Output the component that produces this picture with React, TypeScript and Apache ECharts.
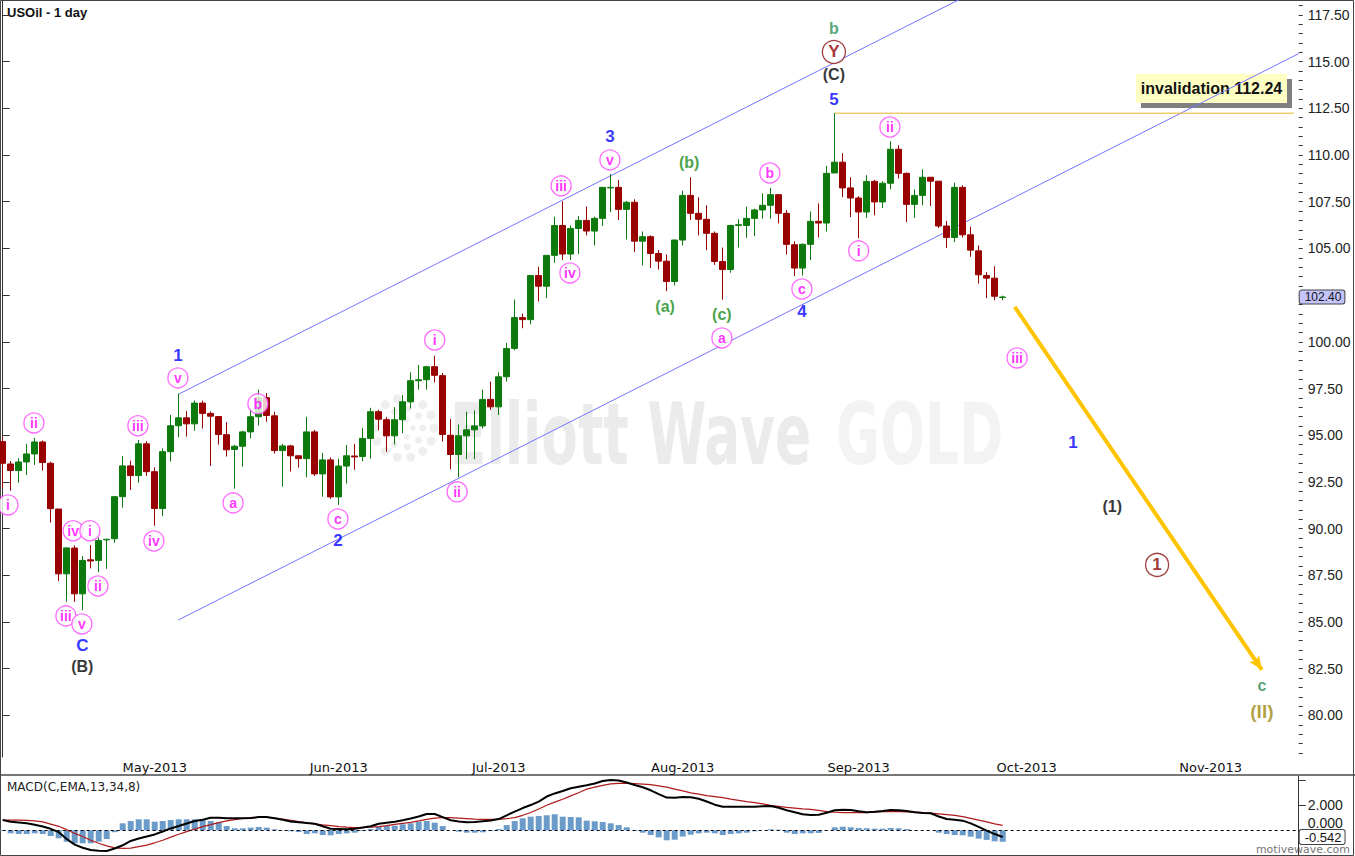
import { useEffect, useRef } from "react";
import * as echarts from "echarts";

// ---------- DATA ----------
const MONTH_NAMES = ["Jan", "Feb", "Mar", "Apr", "May", "Jun", "Jul", "Aug", "Sep", "Oct", "Nov", "Dec"];

// trading-day categories (weekdays) 2013-04-04 .. 2013-11-18
function buildWeekdays(): string[] {
  const out: string[] = [];
  const d = new Date(Date.UTC(2013, 3, 4));
  const end = Date.UTC(2013, 10, 18);
  while (d.getTime() <= end) {
    const wd = d.getUTCDay();
    if (wd !== 0 && wd !== 6) out.push(d.toISOString().slice(0, 10));
    d.setUTCDate(d.getUTCDate() + 1);
  }
  return out;
}
const dates = buildWeekdays();

// [open, close, low, high]
const ohlc: number[][] = [
  [94.66, 93.5, 92.16, 94.93], [93.46, 93.11, 92.03, 93.62], [93.11, 93.57, 92.46, 93.77], [93.57, 94.0, 92.87, 94.54],
  [94.0, 94.64, 93.41, 94.86], [94.64, 93.54, 93.11, 94.72], [93.5, 91.07, 90.32, 93.59], [91.05, 87.58, 87.2, 91.05],
  [87.58, 88.97, 86.08, 88.97], [88.96, 86.51, 86.08, 89.1], [86.51, 88.3, 85.63, 88.53], [88.33, 88.27, 87.87, 89.12],
  [88.3, 89.37, 87.67, 89.53], [89.4, 89.43, 87.85, 89.46], [89.46, 91.71, 89.24, 91.75], [91.71, 93.36, 91.12, 93.89],
  [93.36, 92.84, 92.07, 93.64], [92.84, 94.54, 92.46, 94.75], [94.54, 93.05, 92.82, 94.68], [93.05, 91.08, 90.16, 93.28],
  [91.08, 94.12, 90.67, 94.3], [94.12, 95.51, 93.59, 96.09], [95.51, 95.93, 94.89, 97.22], [95.93, 95.61, 94.93, 96.29],
  [95.61, 96.72, 95.25, 96.86], [96.72, 96.17, 95.36, 96.85], [96.17, 96.02, 93.36, 96.27], [96.0, 95.04, 94.5, 96.0],
  [95.03, 94.22, 93.86, 95.7], [94.24, 94.41, 92.14, 94.49], [94.41, 95.18, 93.32, 95.24], [95.18, 95.99, 94.83, 96.47],
  [95.99, 97.01, 95.52, 97.44], [97.01, 96.06, 95.72, 97.26], [96.04, 94.18, 94.02, 96.26], [94.18, 94.43, 92.25, 94.54],
  [94.43, 93.9, 93.06, 94.49], [93.9, 93.75, 93.27, 93.9], [93.75, 95.18, 92.75, 95.99], [95.18, 92.93, 92.82, 95.29],
  [92.93, 93.68, 91.71, 94.06], [93.68, 91.7, 91.59, 93.81], [91.7, 93.35, 91.27, 93.74], [93.35, 93.9, 92.41, 94.48],
  [93.89, 93.84, 93.15, 94.54], [93.86, 94.83, 93.61, 95.4], [94.83, 96.26, 93.75, 96.47], [96.26, 95.86, 95.26, 96.36],
  [95.83, 94.97, 94.11, 95.97], [94.97, 95.83, 94.5, 96.51], [95.83, 96.79, 95.11, 97.15], [96.79, 97.92, 96.43, 98.37],
  [97.92, 97.97, 97.44, 98.76], [97.97, 98.67, 97.44, 98.72], [98.67, 98.21, 97.83, 99.26], [98.19, 95.04, 94.66, 98.33],
  [95.0, 93.97, 93.18, 95.86], [93.97, 94.97, 92.75, 95.58], [94.97, 95.29, 93.72, 96.26], [95.29, 95.5, 93.72, 96.33],
  [95.5, 96.92, 95.36, 97.44], [96.92, 96.52, 96.36, 97.87], [96.52, 98.13, 96.08, 98.37], [98.13, 99.64, 97.87, 99.94],
  [99.65, 101.3, 99.55, 102.26], [101.3, 101.19, 100.73, 101.51], [101.19, 103.55, 100.94, 103.55], [103.55, 102.98, 102.16, 104.02],
  [102.98, 104.63, 102.34, 104.63], [104.63, 106.23, 104.23, 106.7], [106.23, 104.7, 104.38, 107.52], [104.7, 106.07, 104.38, 106.23],
  [106.07, 106.5, 104.7, 106.73], [106.5, 105.93, 105.7, 107.25], [105.93, 106.61, 105.16, 106.7], [106.61, 108.27, 106.2, 108.27],
  [108.24, 108.27, 106.95, 108.99], [108.27, 107.09, 106.52, 108.67], [107.09, 107.47, 105.48, 107.54], [107.47, 105.39, 104.8, 107.63],
  [105.39, 105.63, 104.09, 105.91], [105.63, 104.73, 103.95, 105.7], [104.73, 104.32, 103.87, 104.91], [104.32, 103.23, 102.71, 104.68],
  [103.23, 105.45, 103.02, 105.48], [105.45, 107.84, 105.16, 108.09], [107.84, 106.88, 106.52, 108.81], [106.88, 106.56, 105.7, 107.74],
  [106.56, 105.81, 104.91, 107.31], [105.81, 104.3, 104.12, 105.91], [104.3, 103.87, 102.26, 105.05], [103.87, 106.23, 103.7, 106.27],
  [106.23, 106.27, 105.05, 106.56], [106.23, 106.61, 105.57, 107.24], [106.61, 107.06, 105.66, 107.13], [107.06, 107.31, 106.59, 107.95],
  [107.31, 107.88, 106.59, 108.24], [107.88, 106.88, 106.34, 107.88], [106.88, 105.22, 104.68, 107.06], [105.2, 103.95, 103.52, 105.38],
  [103.95, 105.22, 103.55, 105.27], [105.22, 106.45, 104.38, 106.98], [106.45, 106.36, 105.59, 107.41], [106.36, 109.02, 105.91, 109.42],
  [109.04, 109.62, 109.04, 112.24], [109.62, 108.24, 107.74, 110.1], [108.24, 107.7, 106.68, 108.81], [107.7, 106.95, 105.55, 107.8],
  [106.95, 108.59, 106.63, 108.92], [108.59, 107.49, 106.77, 108.67], [107.49, 108.49, 107.16, 108.6], [108.49, 110.31, 108.17, 110.74],
  [110.31, 109.02, 108.74, 110.53], [109.02, 107.36, 106.41, 109.06], [107.36, 107.84, 106.63, 108.16], [107.84, 108.81, 107.31, 109.24],
  [108.81, 108.6, 107.27, 108.81], [108.6, 106.2, 106.09, 108.6], [106.2, 105.59, 105.02, 106.48], [105.59, 108.27, 105.34, 108.52],
  [108.27, 105.73, 105.59, 108.38], [105.73, 104.91, 104.55, 106.16], [104.87, 103.59, 103.12, 105.16], [103.55, 103.41, 102.34, 103.73],
  [103.41, 102.44, 102.23, 104.05], [102.38, 102.4, 102.23, 102.47],
];

const macdLine: number[] = [
  0.82, 0.68, 0.62, 0.56, 0.45, 0.3, 0.12, -0.15, -0.7, -1.15, -1.4, -1.58, -1.64, -1.66, -1.46, -1.2, -0.85, -0.65, -0.5, -0.33,
  -0.1, 0.15, 0.34, 0.55, 0.75, 0.85, 1.0, 1.0, 0.96, 0.96, 0.96, 0.98, 1.06, 1.06, 0.96, 0.85, 0.7, 0.64, 0.58, 0.52,
  0.32, 0.12, 0.1, 0.08, 0.12, 0.22, 0.32, 0.52, 0.6, 0.68, 0.8, 0.94, 1.1, 1.3, 1.3, 1.05, 0.8, 0.7, 0.64, 0.66,
  0.72, 0.78, 0.9, 1.2, 1.5, 1.78, 2.02, 2.3, 2.7, 2.95, 3.15, 3.36, 3.48, 3.6, 3.75, 3.95, 4.02, 3.98, 3.82, 3.62,
  3.44, 3.2, 2.9, 2.62, 2.6, 2.66, 2.64, 2.52, 2.3, 2.05, 1.89, 1.89, 1.89, 1.89, 1.89, 1.92, 1.94, 1.8, 1.6, 1.45,
  1.28, 1.22, 1.25, 1.4, 1.6, 1.64, 1.62, 1.52, 1.44, 1.49, 1.55, 1.62, 1.6, 1.55, 1.44, 1.38, 1.36, 1.1, 0.9, 0.85,
  0.77, 0.55, 0.28, -0.03, -0.3, -0.54,
];
const signalLine: number[] = [
  0.82, 0.82, 0.82, 0.8, 0.75, 0.68, 0.5, 0.32, 0.05, -0.25, -0.5, -0.8, -1.04, -1.25, -1.4, -1.44, -1.42, -1.3, -1.18, -1.0,
  -0.8, -0.55, -0.32, -0.11, 0.1, 0.29, 0.45, 0.62, 0.75, 0.86, 0.95, 1.0, 1.05, 1.04, 0.98, 0.9, 0.8, 0.7, 0.6, 0.52,
  0.44, 0.38, 0.3, 0.25, 0.21, 0.22, 0.25, 0.29, 0.38, 0.48, 0.56, 0.64, 0.75, 0.88, 0.98, 1.01, 1.01, 0.98, 0.94, 0.9,
  0.88, 0.88, 0.88, 0.93, 1.01, 1.2, 1.42, 1.7, 2.0, 2.25, 2.48, 2.75, 3.0, 3.3, 3.45, 3.6, 3.72, 3.76, 3.76, 3.74,
  3.7, 3.65, 3.55, 3.45, 3.3, 3.15, 3.0, 2.9, 2.78, 2.7, 2.62, 2.5, 2.4, 2.3, 2.22, 2.12, 2.0, 1.92, 1.84, 1.78,
  1.72, 1.68, 1.6, 1.5, 1.45, 1.41, 1.41, 1.41, 1.42, 1.45, 1.49, 1.49, 1.49, 1.48, 1.46, 1.42, 1.38, 1.32, 1.26, 1.2,
  1.1, 0.96, 0.82, 0.68, 0.52, 0.4,
];
const macdHist: number[] = [
  -0.06, -0.24, -0.3, -0.3, -0.24, -0.3, -0.46, -0.64, -0.91, -1.04, -1.04, -1.04, -0.91, -0.7, -0.15, 0.56, 0.74, 0.88, 0.88, 0.69,
  0.74, 0.82, 0.88, 0.88, 0.88, 0.82, 0.74, 0.64, 0.34, 0.16, 0.16, 0.21, 0.26, 0.21, 0.08, -0.03, -0.08, -0.14, -0.3, -0.24,
  -0.38, -0.4, -0.3, -0.24, -0.19, -0.06, 0.1, 0.29, 0.34, 0.37, 0.48, 0.56, 0.69, 0.74, 0.61, 0.34, 0.0, -0.11, -0.19, -0.19,
  -0.16, -0.06, 0.1, 0.42, 0.74, 0.96, 1.09, 1.14, 1.2, 1.28, 1.09, 1.06, 1.04, 0.77, 0.72, 0.66, 0.56, 0.42, 0.24, -0.06,
  -0.19, -0.38, -0.56, -0.8, -0.75, -0.5, -0.35, -0.24, -0.19, -0.24, -0.38, -0.3, -0.24, -0.19, -0.08, 0.0, 0.08, 0.05, -0.19, -0.3,
  -0.24, -0.24, -0.21, 0.02, 0.24, 0.29, 0.24, 0.18, 0.16, 0.13, 0.13, 0.18, 0.16, 0.1, 0.02, 0.0, 0.0, -0.19, -0.3, -0.38,
  -0.4, -0.51, -0.67, -0.77, -0.88, -0.92,
];

const priceTicks = [80, 82.5, 85, 87.5, 90, 92.5, 95, 97.5, 100, 102.5, 105, 107.5, 110, 112.5, 115, 117.5];
// 102.50 is hidden behind the last-price tag in the reference
const priceLabelTicks = [80, 82.5, 85, 87.5, 90, 92.5, 95, 97.5, 100, 105, 107.5, 110, 112.5, 115, 117.5];
const priceMinorTicks: number[] = [];
for (let v = 78; v <= 118; v += 0.5) priceMinorTicks.push(v);
const macdTicks = [0, 2, 4];
const macdLabelTicks = [2];
const macdZeroLabel = [0];

const lastPrice = 102.4;
const lastMacd = -0.542;
const invalidation = 112.24;

// channel lines: [barIndex, price]
const channelUpper = [[21.95, 97.19], [125, 119.5]];
const channelLower = [[21.95, 85.11], [162, 115.43]];
const invalidationLine = [[104, invalidation], [161.4, invalidation]];
const projection = [[126.5, 101.87], [157.4, 82.44]];

// wave labels: bar index, price, text, degree
const waveLabels: { k: number; p: number; t: string; deg: string }[] = [
  { k: 0.66, p: 91.27, t: "i", deg: "minuette" },
  { k: 3.9, p: 95.66, t: "ii", deg: "minuette" },
  { k: 8.8, p: 89.89, t: "iv", deg: "minuette" },
  { k: 10.9, p: 89.89, t: "i", deg: "minuette" },
  { k: 11.9, p: 86.93, t: "ii", deg: "minuette" },
  { k: 7.9, p: 85.33, t: "iii", deg: "minuette" },
  { k: 9.9, p: 84.9, t: "v", deg: "minuette" },
  { k: 9.95, p: 83.74, t: "C", deg: "minor" },
  { k: 9.95, p: 82.6, t: "(B)", deg: "intermediate" },
  { k: 16.9, p: 95.51, t: "iii", deg: "minuette" },
  { k: 18.9, p: 89.34, t: "iv", deg: "minuette" },
  { k: 21.9, p: 98.07, t: "v", deg: "minuette" },
  { k: 21.9, p: 99.25, t: "1", deg: "minor" },
  { k: 28.8, p: 91.38, t: "a", deg: "minuette" },
  { k: 31.9, p: 96.68, t: "b", deg: "minuette" },
  { k: 41.9, p: 90.52, t: "c", deg: "minuette" },
  { k: 41.9, p: 89.34, t: "2", deg: "minor" },
  { k: 54.0, p: 100.1, t: "i", deg: "minuette" },
  { k: 56.8, p: 91.97, t: "ii", deg: "minuette" },
  { k: 69.8, p: 108.35, t: "iii", deg: "minuette" },
  { k: 70.9, p: 103.69, t: "iv", deg: "minuette" },
  { k: 75.9, p: 109.74, t: "v", deg: "minuette" },
  { k: 75.9, p: 110.97, t: "3", deg: "minor" },
  { k: 82.8, p: 101.87, t: "(a)", deg: "minute" },
  { k: 85.8, p: 109.58, t: "(b)", deg: "minute" },
  { k: 89.9, p: 101.44, t: "(c)", deg: "minute" },
  { k: 89.9, p: 100.21, t: "a", deg: "minuette" },
  { k: 95.9, p: 109.04, t: "b", deg: "minuette" },
  { k: 99.9, p: 102.83, t: "c", deg: "minuette" },
  { k: 99.9, p: 101.65, t: "4", deg: "minor" },
  { k: 103.9, p: 113.0, t: "5", deg: "minor" },
  { k: 103.9, p: 114.29, t: "(C)", deg: "intermediate" },
  { k: 103.9, p: 115.52, t: "Y", deg: "primary" },
  { k: 103.9, p: 116.75, t: "b", deg: "cycle" },
  { k: 107.0, p: 104.87, t: "i", deg: "minuette" },
  { k: 110.9, p: 111.5, t: "ii", deg: "minuette" },
  { k: 126.8, p: 99.14, t: "iii", deg: "minuette" },
  { k: 133.8, p: 94.59, t: "1", deg: "minor" },
  { k: 138.7, p: 91.21, t: "(1)", deg: "intermediate" },
  { k: 144.3, p: 88.06, t: "1", deg: "primary" },
  { k: 157.4, p: 81.58, t: "c", deg: "cycle" },
  { k: 157.4, p: 80.19, t: "(II)", deg: "supercycle" },
];

// ---------- STYLE ----------
const UP = "#0c7a0c";
const DOWN = "#990000";
const PINK = "#ff00ff";
const degreeStyle: Record<string, any> = {
  minuette: { color: PINK, size: 14, circle: 20, stroke: "#ff44ff" },
  minor: { color: "#0000ff", size: 17 },
  intermediate: { color: "#000000", size: 16 },
  minute: { color: "#178a17", size: 16 },
  primary: { color: "#8b0000", size: 17, circle: 23, stroke: "#8b1010" },
  cycle: { color: "#2e8b57", size: 16 },
  supercycle: { color: "#9c8a12", size: 19 },
};

const N = dates.length;
const GRID_LEFT = 2.7;
const GRID_WIDTH = 8 * (N - 1);
const GRID_RIGHT = 1355 - GRID_LEFT - GRID_WIDTH;
const MAIN_H = 757;
const Y_MAX = 118.3;
const Y_MIN = Y_MAX - MAIN_H / 18.68;
const MACD_TOP = 776;
const MACD_H = 79;
const MACD_MAX = (830.3 - MACD_TOP) / 12.5;
const MACD_MIN = MACD_MAX - MACD_H / 12.5;

const isMonthStart = (i: number) => i > 0 && dates[i].slice(5, 7) !== dates[i - 1].slice(5, 7);
const fmtMonth = (v: string) => `${MONTH_NAMES[Number(v.slice(5, 7)) - 1]}-${v.slice(0, 4)}`;

function labelData() {
  return waveLabels.map((w) => {
    const st = degreeStyle[w.deg];
    return {
      value: [w.k, w.p],
      symbol: "circle",
      symbolSize: st.circle || 2,
      itemStyle: st.circle
        ? { color: "#ffffff", borderColor: st.stroke, borderWidth: 1.3 }
        : { color: "rgba(0,0,0,0)", borderWidth: 0 },
      label: {
        show: true,
        position: "inside",
        formatter: w.t,
        color: st.color,
        fontSize: st.size,
        fontWeight: "bold",
        fontFamily: "Liberation Sans",
      },
    };
  });
}

function watermarkDots() {
  const els: any[] = [];
  const cx = 404, cy = 428;
  const rings = [
    { r: 30, n: 14, s: 4.5 },
    { r: 19, n: 9, s: 3.5 },
    { r: 9, n: 5, s: 2.8 },
  ];
  rings.forEach((ring) => {
    for (let i = 0; i < ring.n; i++) {
      const a = (i / ring.n) * Math.PI * 2;
      els.push({
        type: "circle",
        z: -10,
        silent: true,
        shape: { cx: cx + ring.r * Math.cos(a), cy: cy + ring.r * Math.sin(a), r: ring.s },
        style: { fill: "#eeeeee" },
      });
    }
  });
  return els;
}

const axisLabelFont = { fontFamily: "Liberation Sans", fontSize: 14, color: "#222222" };

function priceTag(value: number, text: string, bg: string, fontSize: number) {
  return {
    silent: true,
    symbol: "none",
    lineStyle: { width: 0, color: "rgba(0,0,0,0)" },
    data: [{ yAxis: value }],
    label: {
      show: true,
      position: "end",
      distance: 1,
      opacity: 1,
      formatter: text,
      backgroundColor: bg,
      borderColor: "#444444",
      borderWidth: 1,
      borderRadius: 2,
      padding: [1, 3, 0, 5],
      color: "#111111",
      fontFamily: "Liberation Sans",
      fontSize,
    },
  };
}

const option: any = {
  animation: false,
  backgroundColor: "#ffffff",
  grid: [
    { left: GRID_LEFT, right: GRID_RIGHT, top: 0, height: MAIN_H },
    { left: GRID_LEFT, right: GRID_RIGHT, top: MACD_TOP, height: MACD_H },
  ],
  xAxis: [
    {
      type: "category",
      gridIndex: 0,
      data: dates,
      boundaryGap: false,
      axisLine: { show: false },
      axisTick: { show: false },
      axisLabel: {
        interval: (i: number) => isMonthStart(i),
        formatter: fmtMonth,
        margin: 4,
        fontFamily: "DejaVu Sans",
        fontSize: 13,
        color: "#111111",
      },
      splitLine: { show: false },
    },
    { type: "value", gridIndex: 0, min: 0, max: N - 1, show: false },
    {
      type: "category",
      gridIndex: 1,
      data: dates,
      boundaryGap: false,
      axisLine: { show: false },
      axisTick: { show: false },
      axisLabel: { show: false },
      splitLine: { show: false },
    },
  ],
  yAxis: [
    {
      type: "value",
      gridIndex: 0,
      position: "right",
      min: Y_MIN,
      max: Y_MAX,
      axisLine: { show: true, lineStyle: { color: "#333333", width: 1 } },
      axisTick: { show: true, length: 7, customValues: priceTicks, lineStyle: { color: "#333333" } },
      axisLabel: {
        customValues: priceLabelTicks,
        formatter: (v: number) => v.toFixed(2),
        margin: 9,
        ...axisLabelFont,
      },
      splitLine: { show: false },
    },
    {
      type: "value",
      gridIndex: 0,
      position: "right",
      min: Y_MIN,
      max: Y_MAX,
      axisLine: { show: false },
      axisTick: { show: true, length: 4, customValues: priceMinorTicks, lineStyle: { color: "#333333" } },
      axisLabel: { show: false },
      splitLine: { show: false },
    },
    {
      type: "value",
      gridIndex: 1,
      position: "right",
      min: MACD_MIN,
      max: MACD_MAX,
      axisLine: { show: true, lineStyle: { color: "#333333", width: 1 } },
      axisTick: { show: true, length: 7, customValues: macdTicks, lineStyle: { color: "#333333" } },
      axisLabel: {
        customValues: macdLabelTicks,
        formatter: (v: number) => v.toFixed(3),
        margin: 9,
        ...axisLabelFont,
      },
      splitLine: { show: false },
    },
    {
      type: "value",
      gridIndex: 1,
      position: "right",
      min: MACD_MIN,
      max: MACD_MAX,
      axisLine: { show: false },
      axisTick: { show: false },
      axisLabel: {
        customValues: macdZeroLabel,
        formatter: (v: number) => v.toFixed(3),
        margin: 9,
        verticalAlign: "bottom",
        ...axisLabelFont,
      },
      splitLine: { show: false },
    },
  ],
  series: [
    {
      type: "line",
      name: "channelUpper",
      xAxisIndex: 1,
      yAxisIndex: 0,
      data: channelUpper,
      symbol: "none",
      clip: true,
      z: 1,
      lineStyle: { color: "#7474ff", width: 1 },
      silent: true,
    },
    {
      type: "line",
      name: "channelLower",
      xAxisIndex: 1,
      yAxisIndex: 0,
      data: channelLower,
      symbol: "none",
      clip: true,
      z: 1,
      lineStyle: { color: "#7474ff", width: 1 },
      silent: true,
    },
    {
      type: "line",
      name: "invalidation",
      xAxisIndex: 1,
      yAxisIndex: 0,
      data: invalidationLine,
      symbol: "none",
      z: 1,
      lineStyle: { color: "#e8b526", width: 1 },
      silent: true,
    },
    {
      type: "candlestick",
      name: "USOil",
      xAxisIndex: 0,
      yAxisIndex: 0,
      data: ohlc,
      barWidth: 6,
      clip: false,
      z: 3,
      itemStyle: { color: UP, color0: DOWN, borderColor: UP, borderColor0: DOWN, borderWidth: 1 },
      markLine: priceTag(lastPrice, lastPrice.toFixed(2), "#c4c4fb", 12),
    },
    {
      type: "line",
      name: "projection",
      xAxisIndex: 1,
      yAxisIndex: 0,
      data: projection,
      showSymbol: true,
      symbol: (_v: any, p: any) => (p.dataIndex === 1 ? "arrow" : "none"),
      symbolSize: [9, 14],
      symbolRotate: -145.8,
      itemStyle: { color: "#ffc400" },
      lineStyle: { color: "#ffc400", width: 4 },
      z: 4,
      silent: true,
    },
    {
      type: "scatter",
      name: "waves",
      xAxisIndex: 1,
      yAxisIndex: 0,
      data: labelData(),
      z: 6,
      silent: true,
    },
    {
      type: "bar",
      name: "hist",
      xAxisIndex: 2,
      yAxisIndex: 2,
      data: macdHist,
      barWidth: 6,
      itemStyle: { color: "#6b9bc9" },
      markLine: {
        silent: true,
        symbol: "none",
        label: { show: false },
        lineStyle: { color: "#000000", type: [3, 3], width: 1 },
        data: [{ yAxis: 0 }],
      },
    },
    {
      type: "line",
      name: "signal",
      xAxisIndex: 2,
      yAxisIndex: 2,
      data: signalLine,
      symbol: "none",
      lineStyle: { color: "#b01a1a", width: 1.2 },
      z: 3,
    },
    {
      type: "line",
      name: "macd",
      xAxisIndex: 2,
      yAxisIndex: 2,
      data: macdLine,
      symbol: "none",
      clip: false,
      lineStyle: { color: "#000000", width: 2 },
      z: 4,
      markLine: priceTag(lastMacd, lastMacd.toFixed(3), "#ffffff", 13),
    },
  ],
  graphic: [
    ...watermarkDots(),
    {
      type: "text",
      z: -10,
      silent: true,
      x: 450,
      y: 392,
      scaleX: 0.62,
      style: {
        text: "Elliott Wave",
        fill: "#ebebeb",
        font: "bold 86px 'DejaVu Sans'",
      },
    },
    {
      type: "text",
      z: -10,
      silent: true,
      x: 836,
      y: 392,
      scaleX: 0.62,
      style: {
        text: "GOLD",
        fill: "#f3f3f3",
        font: "bold 86px 'DejaVu Sans'",
      },
    },
    {
      type: "text",
      x: 7,
      y: 6,
      style: { text: "USOil - 1 day", fill: "#111111", font: "bold 13px 'Liberation Sans'" },
    },
    { type: "rect", shape: { x: 1141, y: 79, width: 151, height: 29 }, style: { fill: "#808080" } },
    { type: "rect", shape: { x: 1136, y: 74, width: 151, height: 29 }, style: { fill: "#ffffc4" } },
    {
      type: "text",
      x: 1211.5,
      y: 88.5,
      style: {
        text: "invalidation 112.24",
        fill: "#111111",
        font: "bold 16px 'Liberation Sans'",
        align: "center",
        verticalAlign: "middle",
      },
    },
    {
      type: "text",
      x: 7,
      y: 781,
      style: { text: "MACD(C,EMA,13,34,8)", fill: "#222222", font: "12px 'DejaVu Sans'" },
    },
    {
      type: "text",
      x: 1350,
      y: 849,
      style: {
        text: "motivewave.com",
        fill: "#777777",
        font: "11px 'DejaVu Sans'",
        align: "right",
        verticalAlign: "middle",
      },
    },
    { type: "rect", shape: { x: 0, y: 774, width: 1355, height: 2 }, style: { fill: "#777777" } },
    {
      type: "rect",
      shape: { x: 0.5, y: 0.5, width: 1353, height: 855 },
      style: { fill: "none", stroke: "#444444", lineWidth: 1 },
      silent: true,
    },
  ],
};

export default function App() {
  const ref = useRef<HTMLDivElement>(null);
  useEffect(() => {
    const chart = echarts.init(ref.current!, null, { renderer: "svg" });
    chart.setOption(option);
    return () => chart.dispose();
  }, []);
  return (
    <div
      ref={ref}
      style={{ position: "fixed", left: 0, top: 0, width: 1355, height: 856, background: "#ffffff" }}
    />
  );
}
